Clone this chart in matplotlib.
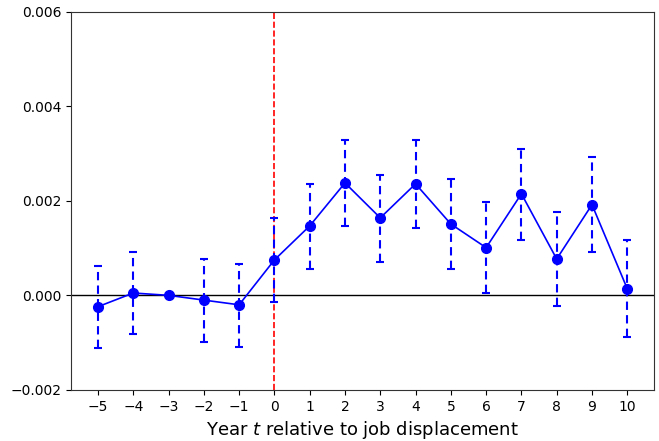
import matplotlib
matplotlib.use("Agg")
import matplotlib.pyplot as plt
import numpy as np

years = [-5, -4, -3, -2, -1, 0, 1, 2, 3, 4, 5, 6, 7, 8, 9, 10]
coef = [-0.00024, 0.00005, 0.0, -0.0001, -0.0002, 0.00075, 0.00147, 0.00238,
        0.00164, 0.00236, 0.00151, 0.00101, 0.00215, 0.00077, 0.00192, 0.00014]
upper = [0.00062, 0.00092, 0.0, 0.00077, 0.00067, 0.00164, 0.00236, 0.00329,
         0.00255, 0.00329, 0.00247, 0.00198, 0.0031, 0.00177, 0.00293, 0.00117]
lower = [-0.00111, -0.00082, 0.0, -0.00098, -0.00109, -0.00014, 0.00056, 0.00147,
         0.00071, 0.00143, 0.00056, 0.00005, 0.00117, -0.00022, 0.00092, -0.00088]

coef_a = np.array(coef)
yerr = np.vstack([coef_a - np.array(lower), np.array(upper) - coef_a])

fig = plt.figure(figsize=(6.59, 4.41), dpi=100)
ax = fig.add_axes([0.108, 0.116, 0.884, 0.857])

ax.axhline(0, color='black', linewidth=1.0, zorder=1)
ax.axvline(0, color='red', linestyle='--', linewidth=1.2, zorder=1)

eb = ax.errorbar(years, coef, yerr=yerr, fmt='o-', color='blue', markersize=7,
                 linewidth=1.2, elinewidth=1.5, capsize=3, capthick=1.5, zorder=3)
for lc in eb[2]:
    lc.set_linestyle((0, (4, 2.5)))

ax.set_xlim(-5.76, 10.75)
ax.set_ylim(-0.002, 0.006)
ax.set_xticks(years)
ax.set_yticks([-0.002, 0.0, 0.002, 0.004, 0.006])
ax.set_yticklabels(['\u22120.002', '0.000', '0.002', '0.004', '0.006'])
ax.set_xticklabels([str(y).replace('-', '\u2212') for y in years])
ax.tick_params(labelsize=10)
ax.set_xlabel('Year $t$ relative to job displacement', fontsize=13)
for s in ax.spines.values():
    s.set_color('#333333')

fig.savefig('out.png', dpi=100)
